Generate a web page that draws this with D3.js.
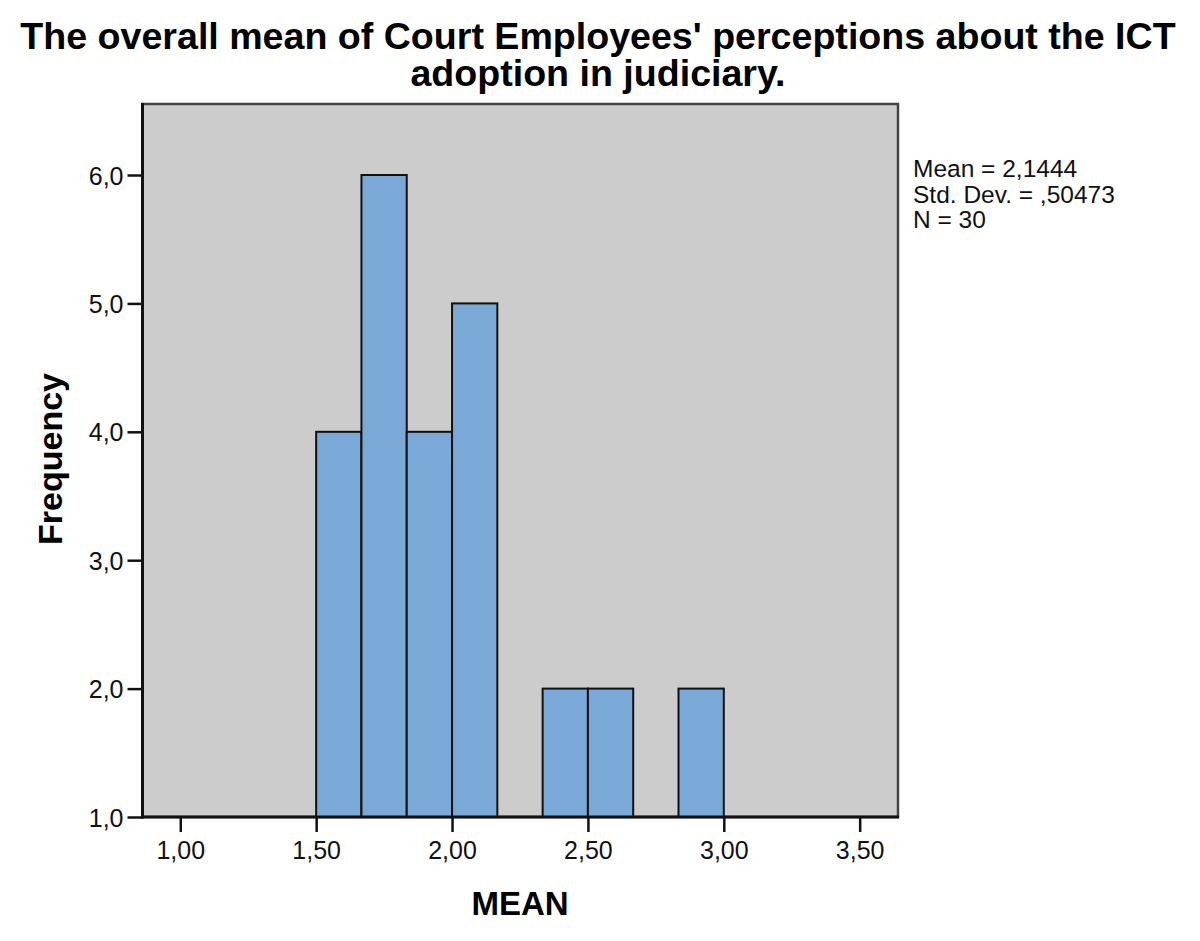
<!DOCTYPE html>
<html><head><meta charset="utf-8">
<script src="https://cdn.jsdelivr.net/npm/d3@7"></script>
<style>body{margin:0;background:#fff;}svg{display:block;font-family:"Liberation Sans",Arial,sans-serif;}</style>
</head><body>
<svg id="c" width="1200" height="941"></svg>
<script>
const titleLines = ["The overall mean of Court Employees' perceptions about the ICT", "adoption in judiciary."];
const binStarts = [4/3, 3/2, 5/3, 11/6, 2, 13/6, 7/3, 5/2, 8/3, 17/6, 3, 19/6];
const binWidth = 1/6;
const frequencies = [1, 4, 6, 4, 5, 1, 2, 2, 1, 2, 1, 1];
const xTicks = [1.0, 1.5, 2.0, 2.5, 3.0, 3.5];
const yTicks = [1, 2, 3, 4, 5, 6];
const statsLines = ["Mean = 2,1444", "Std. Dev. = ,50473", "N = 30"];
const xLabel = "MEAN", yLabel = "Frequency";

const svg = d3.select("#c");
const L = 142.5, R = 898, T = 104, B = 817;
const x = d3.scaleLinear().domain([0.861, 3.641]).range([L, R]);
const y = d3.scaleLinear().domain([1, 6.553]).range([B, T]);

svg.append("rect").attr("x", L).attr("y", T).attr("width", R - L).attr("height", B - T)
  .attr("fill", "#cccccc").attr("stroke", "#444").attr("stroke-width", 2.5);

const bins = binStarts.map((s, i) => ({x0: s, x1: s + binWidth, f: frequencies[i]}));
svg.append("g").selectAll("rect").data(bins).join("rect")
  .attr("x", d => x(d.x0)).attr("width", d => x(d.x1) - x(d.x0))
  .attr("y", d => y(d.f)).attr("height", d => y(1) - y(d.f))
  .attr("fill", "#7aa9d7").attr("stroke", "#111").attr("stroke-width", 2);

const fmtX = d => d3.format(".2f")(d).replace(".", ",");
const fmtY = d => d3.format(".1f")(d).replace(".", ",");

const xa = svg.append("g").attr("transform", `translate(0,${B})`)
  .call(d3.axisBottom(x).tickValues(xTicks).tickFormat(fmtX).tickSize(15).tickSizeOuter(0).tickPadding(9));
const ya = svg.append("g").attr("transform", `translate(${L},0)`)
  .call(d3.axisLeft(y).tickValues(yTicks).tickFormat(fmtY).tickSize(15).tickSizeOuter(0).tickPadding(4));
[xa, ya].forEach(a => {
  a.select(".domain").remove();
  a.selectAll(".tick line").attr("stroke", "#111").attr("stroke-width", 2.5);
  a.selectAll(".tick text").attr("font-size", 25).attr("fill", "#111").attr("font-family", "Liberation Sans, Arial, sans-serif");
});
ya.selectAll(".tick text").attr("dy", "0.36em");
svg.append("line").attr("x1", L).attr("x2", L).attr("y1", T - 1).attr("y2", B + 1.5).attr("stroke", "#111").attr("stroke-width", 3);
svg.append("line").attr("x1", L - 1).attr("x2", R + 1).attr("y1", B).attr("y2", B).attr("stroke", "#111").attr("stroke-width", 3);

svg.append("g").selectAll("text").data(titleLines).join("text")
  .attr("x", 598).attr("y", (d, i) => 48.5 + i * 37.5).attr("text-anchor", "middle")
  .attr("font-size", 37.6).attr("font-weight", "bold").attr("fill", "#000").text(d => d);

svg.append("text").attr("x", 520).attr("y", 915).attr("text-anchor", "middle")
  .attr("font-size", 33).attr("font-weight", "bold").text(xLabel);
svg.append("text").attr("transform", "translate(62,459) rotate(-90)").attr("text-anchor", "middle")
  .attr("font-size", 34).attr("font-weight", "bold").text(yLabel);

svg.append("g").selectAll("text").data(statsLines).join("text")
  .attr("x", 913).attr("y", (d, i) => 177 + i * 25.5).attr("font-size", 24.5).attr("fill", "#111").text(d => d);
</script>
</body></html>
